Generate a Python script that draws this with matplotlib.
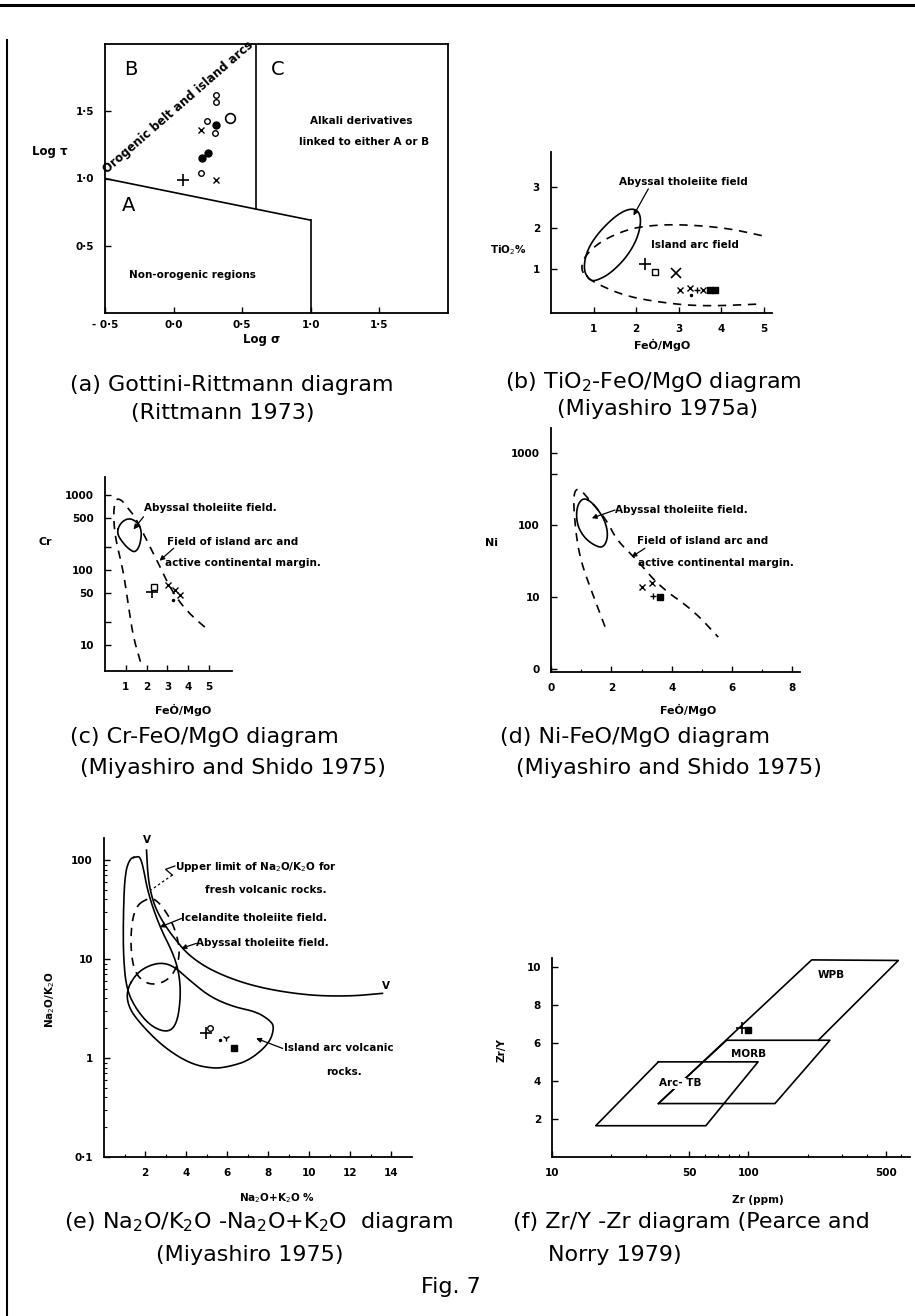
import numpy as np
import matplotlib
matplotlib.use("Agg")
import matplotlib.pyplot as plt
from matplotlib.lines import Line2D

plt.rcParams["font.family"] = ["DejaVu Sans"]
plt.rcParams["mathtext.fontset"] = "dejavusans"

W, H = 915, 1316

# ---------------- (a) Gottini-Rittmann ----------------
A_LOW_X = [-0.5, 1.0]
A_LOW_Y = [1.0, 0.69]
A_BC_X = [0.6, 0.6]
A_BC_Y = [0.775, 2.0]
A_RIGHT_X = [1.0, 1.0]
A_RIGHT_Y = [0.69, 0.0]
A_X = [0.07, 0.20, 0.31, 0.205, 0.25, 0.20, 0.24, 0.31, 0.30, 0.41, 0.31, 0.31]
A_Y = [0.99, 1.04, 0.99, 1.15, 1.19, 1.36, 1.43, 1.40, 1.34, 1.45, 1.62, 1.57]
A_SYM = ["+", "o", "x", "d", "d", "x", "o", "d", "o", "O", "o", "o"]

# ---------------- (b) TiO2 - FeO*/MgO ----------------
B_ELL_X = [0.92, 0.76, 0.84, 1.15, 1.62, 1.98, 2.13, 2.05, 1.78, 1.39, 1.07]
B_ELL_Y = [0.72, 0.97, 1.46, 1.94, 2.39, 2.50, 2.27, 1.78, 1.29, 0.89, 0.72]
B_DASH_X = [4.96, 4.05, 2.88, 2.09, 1.62, 1.15, 0.84, 0.72, 0.74, 1.0, 1.7, 2.49, 3.51, 4.96]
B_DASH_Y = [1.82, 2.02, 2.10, 2.04, 1.90, 1.66, 1.37, 1.13, 0.89, 0.68, 0.36, 0.20, 0.09, 0.15]
B_X = [2.21, 2.45, 2.94, 3.04, 3.27, 3.29, 3.43, 3.58, 3.74, 3.86]
B_Y = [1.13, 0.93, 0.90, 0.50, 0.54, 0.36, 0.48, 0.50, 0.50, 0.50]
B_SYM = ["+", "s", "X", "x", "x", ".", "p", "x", "S", "S"]

# ---------------- (c) Cr - FeO*/MgO ----------------
C_DASH_X = [1.70, 1.35, 1.11, 0.87, 0.48, 0.40, 0.52, 0.80, 1.06, 1.45, 2.0, 2.56, 3.0, 3.62, 4.2, 4.83]
C_DASH_Y = [6.0, 13, 36, 100, 275, 600, 900, 860, 690, 510, 250, 124, 67, 36, 24, 17]
C_ELL_X = [0.56, 0.72, 1.11, 1.50, 1.77, 1.69, 1.45, 1.15, 0.88]
C_ELL_Y = [308, 419, 494, 450, 341, 216, 170, 190, 227]
C_X = [2.26, 2.37, 3.03, 3.38, 3.59, 3.27]
C_Y = [51.5, 60, 63, 54, 46, 40]
C_SYM = ["+", "s", "x", "x", "x", "."]

# ---------------- (d) Ni - FeO*/MgO ----------------
D_DASH_X = [1.79, 1.29, 1.02, 0.85, 0.74, 0.79, 0.96, 1.18, 1.84, 2.17, 2.84, 3.61, 4.71, 5.54]
D_DASH_Y = [3.9, 13.9, 29, 62, 200, 306, 313, 247, 118, 62, 33, 13.9, 6.6, 2.8]
D_ELL_X = [1.07, 1.40, 1.79, 1.90, 1.73, 1.40, 1.07, 0.85, 0.85]
D_ELL_Y = [242, 200, 117, 69, 47.5, 53, 69, 105, 180]
D_X = [3.0, 3.33, 3.39, 3.61]
D_Y = [14, 15.6, 10.3, 9.9]
D_SYM = ["x", "x", "p", "S"]

# ---------------- (e) Na2O/K2O - Na2O+K2O ----------------
E_LIMIT_X = [2.07, 2.15, 2.4, 2.8, 3.36, 4.17, 5.47, 7.41, 9.84, 11.94, 13.56]
E_LIMIT_Y = [126, 63, 37, 24.8, 16.8, 10.6, 7.2, 5.2, 4.3, 4.2, 4.5]
E_TALL_X = [1.59, 1.26, 1.02, 0.94, 0.94, 1.10, 1.59, 2.31, 3.12, 3.56, 3.74, 3.66, 3.36, 2.72, 2.15, 1.91, 1.75]
E_TALL_Y = [108, 104, 73, 29, 10.5, 4.9, 3.05, 2.07, 1.8, 2.24, 4.17, 7.2, 11.5, 21, 45.7, 85, 108]
E_DASH_X = [2.15, 1.59, 1.34, 1.30, 1.50, 2.07, 2.72, 3.28, 3.61, 3.69, 3.36, 2.80, 2.40]
E_DASH_Y = [41, 35, 23, 12.3, 7.2, 5.6, 5.6, 6.6, 9.0, 13.3, 23, 35, 41]
E_ARC_X = [1.10, 1.59, 2.23, 2.88, 3.45, 4.17, 5.15, 6.28, 7.41, 8.06, 8.30, 8.06, 7.09, 6.12, 5.30, 4.17, 2.88, 1.75, 1.18]
E_ARC_Y = [4.9, 7.2, 8.7, 9.2, 8.3, 6.1, 4.17, 3.3, 2.94, 2.42, 2.07, 1.41, 0.95, 0.82, 0.78, 0.88, 1.3, 2.24, 3.3]
E_X = [4.98, 5.15, 5.63, 5.95, 6.31]
E_Y = [1.78, 2.0, 1.51, 1.58, 1.25]
E_SYM = ["+", "o", ".", "y", "S"]

# ---------------- (f) Zr/Y - Zr ----------------
F_WPB_X = [34.8, 210, 580, 227]
F_WPB_Y = [2.82, 10.4, 10.37, 6.16]
F_MORB_X = [77.4, 260, 136.5, 34.8]
F_MORB_Y = [6.16, 6.16, 2.82, 2.82]
F_ARC_X = [34.8, 112, 60.7, 16.7, 34.8]
F_ARC_Y = [5.02, 5.02, 1.65, 1.65, 5.02]
F_X = [92.5, 100]
F_Y = [6.8, 6.68]
F_SYM = ["+", "S"]

SYM = {
    "+": dict(marker="+", ms=8, mew=1.2),
    "p": dict(marker="+", ms=5, mew=1.0),
    "x": dict(marker="x", ms=4.5, mew=1.0),
    "X": dict(marker="x", ms=6.5, mew=1.2),
    "y": dict(marker="1", ms=5, mew=1.0),
    "o": dict(marker="o", ms=4, mfc="white", mew=1.0),
    "O": dict(marker="o", ms=7, mfc="white", mew=1.2),
    "d": dict(marker="o", ms=5, mfc="k"),
    "s": dict(marker="s", ms=4, mfc="white", mew=1.0),
    "S": dict(marker="s", ms=4, mfc="k"),
    ".": dict(marker=".", ms=3),
}

LW = 1.2
DASH = (0, (5, 4))
NOTE = dict(fontsize=7.5, fontweight="bold")
CAP = 16

fig = plt.figure(figsize=(W / 100, H / 100), dpi=100)


def add_ax(left, top, right, bottom, box=False):
    ax = fig.add_axes([left / W, 1 - bottom / H, (right - left) / W, (bottom - top) / H])
    for s in ["top", "right"]:
        ax.spines[s].set_visible(box)
    for s in ax.spines.values():
        s.set_linewidth(1.3)
    ax.tick_params(direction="in", length=4, width=1.0, pad=8, labelsize=7.5)
    ax.tick_params(which="minor", direction="in", length=2.5, width=0.8)
    return ax


def ftext(x, y, s, **kw):
    kw.setdefault("ha", "center")
    kw.setdefault("va", "center")
    fig.text(x / W, 1 - y / H, s, **kw)


def smooth(xs, ys, closed=False, logx=False, logy=False, n=3):
    px = np.log10(xs) if logx else np.asarray(xs, float)
    py = np.log10(ys) if logy else np.asarray(ys, float)
    pts = np.column_stack([px, py])
    if closed and np.allclose(pts[0], pts[-1]):
        pts = pts[:-1]
    for _ in range(n):
        if closed:
            p, q = pts, np.roll(pts, -1, axis=0)
        else:
            p, q = pts[:-1], pts[1:]
        new = np.empty((2 * len(p), 2))
        new[0::2] = 0.75 * p + 0.25 * q
        new[1::2] = 0.25 * p + 0.75 * q
        if not closed:
            new = np.vstack([pts[0], new, pts[-1]])
        pts = new
    if closed:
        pts = np.vstack([pts, pts[:1]])
    sx = 10 ** pts[:, 0] if logx else pts[:, 0]
    sy = 10 ** pts[:, 1] if logy else pts[:, 1]
    return sx, sy


def samples(ax, xs, ys, syms):
    for x, y, s in zip(xs, ys, syms):
        ax.plot([x], [y], linestyle="none", color="k", mec="k", clip_on=False, **SYM[s])


def arrow(ax, start, end):
    ax.annotate("", xy=end, xytext=start,
                arrowprops=dict(arrowstyle="-|>", lw=0.9, color="k", mutation_scale=7,
                                shrinkA=0, shrinkB=0))


def bold_ticks(ax):
    for lab in ax.get_xticklabels() + ax.get_yticklabels():
        lab.set_fontweight("bold")


# ---- (a)
ax = add_ax(105, 44, 448, 313, box=True)
ax.plot(A_LOW_X, A_LOW_Y, color="k", lw=LW)
ax.plot(A_BC_X, A_BC_Y, color="k", lw=LW)
ax.plot(A_RIGHT_X, A_RIGHT_Y, color="k", lw=LW)
samples(ax, A_X, A_Y, A_SYM)
ax.set_xlim(-0.5, 2.0)
ax.set_ylim(0, 2.0)
ax.set_xticks([-0.5, 0.0, 0.5, 1.0, 1.5])
ax.set_xticklabels(["- 0·5", "0·0", "0·5", "1·0", "1·5"])
ax.set_yticks([0.5, 1.0, 1.5])
ax.set_yticklabels(["0·5", "1·0", "1·5"])
ax.tick_params(axis="x", pad=5)
bold_ticks(ax)
ax.text(-0.31, 1.81, "B", fontsize=14, ha="center", va="center")
ax.text(0.76, 1.81, "C", fontsize=14, ha="center", va="center")
ax.text(-0.33, 0.80, "A", fontsize=14, ha="center", va="center")
ax.text(1.37, 1.43, "Alkali derivatives", ha="center", va="center", **NOTE)
ax.text(1.39, 1.27, "linked to either A or B", ha="center", va="center", **NOTE)
ax.text(0.14, 0.28, "Non-orogenic regions", ha="center", va="center", **NOTE)
ax.text(-0.47, 1.02, "Orogenic belt and island arcs", rotation=41, rotation_mode="anchor",
        ha="left", va="bottom", fontsize=8.5, fontweight="bold")
ftext(50, 152, "Log τ", fontsize=8.5, fontweight="bold")
ftext(262, 340, "Log σ", fontsize=8.5, fontweight="bold")
ftext(70, 385, "(a) Gottini-Rittmann diagram", fontsize=CAP, ha="left")
ftext(223, 413, "(Rittmann 1973)", fontsize=CAP)

# ---- (b)
ax = add_ax(551, 152, 772, 313)
x, y = smooth(B_ELL_X, B_ELL_Y, closed=True)
ax.plot(x, y, color="k", lw=LW)
x, y = smooth(B_DASH_X, B_DASH_Y)
ax.plot(x, y, color="k", lw=LW, linestyle=DASH)
samples(ax, B_X, B_Y, B_SYM)
ax.set_xlim(0, 5.2)
ax.set_ylim(-0.07, 3.86)
ax.set_xticks([1, 2, 3, 4, 5])
ax.set_yticks([1, 2, 3])
bold_ticks(ax)
ax.text(3.11, 3.12, "Abyssal tholeiite field", ha="center", va="center", **NOTE)
arrow(ax, (2.29, 2.96), (1.94, 2.31))
ax.text(3.39, 1.58, "Island arc field", ha="center", va="center", **NOTE)
ftext(508, 250, "TiO$_2$%", fontsize=7.5, fontweight="bold")
ftext(662, 345, "FeȮ/MgO", fontsize=8, fontweight="bold")
ftext(505, 382, "(b) TiO$_2$-FeO/MgO diagram", fontsize=CAP, ha="left")
ftext(658, 409, "(Miyashiro 1975a)", fontsize=CAP)

# ---- (c)
ax = add_ax(105, 477, 232, 671)
ax.set_yscale("log")
x, y = smooth(C_DASH_X, C_DASH_Y, logy=True)
ax.plot(x, y, color="k", lw=LW, linestyle=DASH)
x, y = smooth(C_ELL_X, C_ELL_Y, closed=True, logy=True)
ax.plot(x, y, color="k", lw=LW)
samples(ax, C_X, C_Y, C_SYM)
ax.set_xlim(0, 6.1)
ax.set_ylim(4.5, 1740)
ax.set_xticks([1, 2, 3, 4, 5])
ax.set_yticks([10, 20, 50, 100, 200, 500, 1000])
ax.set_yticklabels(["10", "", "50", "100", "", "500", "1000"])
ax.yaxis.set_minor_locator(matplotlib.ticker.NullLocator())
bold_ticks(ax)
ax.text(1.85, 665, "Abyssal tholeiite field.", ha="left", va="center", clip_on=False, **NOTE)
arrow(ax, (1.85, 513), (1.37, 348))
ax.text(2.98, 238, "Field of island arc and", ha="left", va="center", clip_on=False, **NOTE)
ax.text(2.9, 123, "active continental margin.", ha="left", va="center", clip_on=False, **NOTE)
arrow(ax, (3.3, 195), (2.62, 133))
ftext(45, 542, "Cr", fontsize=8, fontweight="bold")
ftext(183, 710, "FeȮ/MgO", fontsize=8, fontweight="bold")
ftext(70, 737, "(c) Cr-FeO/MgO diagram", fontsize=CAP, ha="left")
ftext(80, 768, "(Miyashiro and Shido 1975)", fontsize=CAP, ha="left")

# ---- (d)
ax = add_ax(551, 428, 800, 672)
ax.set_yscale("log")
x, y = smooth(D_DASH_X, D_DASH_Y, logy=True)
ax.plot(x, y, color="k", lw=LW, linestyle=DASH)
x, y = smooth(D_ELL_X, D_ELL_Y, closed=True, logy=True)
ax.plot(x, y, color="k", lw=LW)
samples(ax, D_X, D_Y, D_SYM)
ax.set_xlim(0, 8.25)
ax.set_ylim(0.92, 2200)
ax.set_xticks([0, 2, 4, 6, 8])
ax.set_xticks([1, 3, 5, 7], minor=True)
ax.set_yticks([1, 10, 100, 500, 1000])
ax.set_yticklabels(["0", "10", "100", "", "1000"])
ax.yaxis.set_minor_locator(matplotlib.ticker.NullLocator())
bold_ticks(ax)
ax.text(2.12, 161, "Abyssal tholeiite field.", ha="left", va="center", clip_on=False, **NOTE)
arrow(ax, (2.12, 161), (1.35, 124))
ax.text(2.84, 59, "Field of island arc and", ha="left", va="center", clip_on=False, **NOTE)
ax.text(2.89, 29.5, "active continental margin.", ha="left", va="center", clip_on=False, **NOTE)
arrow(ax, (3.11, 47.5), (2.67, 36))
ftext(492, 543, "Ni", fontsize=8, fontweight="bold")
ftext(688, 710, "FeȮ/MgO", fontsize=8, fontweight="bold")
ftext(500, 737, "(d) Ni-FeO/MgO diagram", fontsize=CAP, ha="left")
ftext(516, 768, "(Miyashiro and Shido 1975)", fontsize=CAP, ha="left")

# ---- (e)
ax = add_ax(104, 838, 412, 1157)
ax.set_yscale("log")
x, y = smooth(E_LIMIT_X, E_LIMIT_Y, logy=True)
ax.plot(x, y, color="k", lw=LW, clip_on=False)
x, y = smooth(E_TALL_X, E_TALL_Y, closed=True, logy=True)
ax.plot(x, y, color="k", lw=LW)
x, y = smooth(E_DASH_X, E_DASH_Y, closed=True, logy=True)
ax.plot(x, y, color="k", lw=LW, linestyle=DASH)
x, y = smooth(E_ARC_X, E_ARC_Y, closed=True, logy=True)
ax.plot(x, y, color="k", lw=LW)
samples(ax, E_X, E_Y, E_SYM)
ax.set_xlim(0, 15)
ax.set_ylim(0.1, 167)
ax.set_xticks([2, 4, 6, 8, 10, 12, 14])
ax.set_xticks([1, 3, 5, 7, 9, 11, 13], minor=True)
ax.set_yticks([0.1, 1, 10, 100])
ax.set_yticklabels(["0·1", "1", "10", "100"])
bold_ticks(ax)
ax.text(2.07, 160, "V", ha="center", va="center", clip_on=False, **NOTE)
ax.text(13.75, 5.4, "V", ha="center", va="center", clip_on=False, **NOTE)
ax.text(3.45, 85, "Upper limit of Na$_2$O/K$_2$O for", ha="left", va="center", **NOTE)
ax.text(4.9, 50, "fresh volcanic rocks.", ha="left", va="center", **NOTE)
ax.plot([3.45, 3.0, 3.33], [87, 80.6, 70.5], color="k", lw=0.9)
ax.plot([3.33, 2.3], [70.5, 50], color="k", lw=0.9, linestyle=(0, (2, 2)))
ax.text(3.77, 25.7, "Icelandite tholeiite field.", ha="left", va="center", **NOTE)
arrow(ax, (3.77, 25.7), (2.72, 21))
ax.text(4.5, 14.4, "Abyssal tholeiite field.", ha="left", va="center", **NOTE)
arrow(ax, (4.5, 14.4), (3.77, 12.8))
ax.text(8.79, 1.25, "Island arc volcanic", ha="left", va="center", **NOTE)
arrow(ax, (8.7, 1.25), (7.41, 1.58))
ax.text(11.7, 0.73, "rocks.", ha="center", va="center", **NOTE)
ftext(50, 1000, "Na$_2$O/K$_2$O", fontsize=7.5, fontweight="bold", rotation=90)
ftext(277, 1198, "Na$_2$O+K$_2$O %", fontsize=7.5, fontweight="bold")
ftext(64, 1222, "(e) Na$_2$O/K$_2$O -Na$_2$O+K$_2$O  diagram", fontsize=CAP, ha="left")
ftext(250, 1255, "(Miyashiro 1975)", fontsize=CAP)

# ---- (f)
ax = add_ax(552, 958, 910, 1157)
ax.set_xscale("log")
ax.plot(F_WPB_X, F_WPB_Y, color="k", lw=LW, clip_on=False)
ax.plot(F_MORB_X + F_MORB_X[:1], F_MORB_Y + F_MORB_Y[:1], color="k", lw=LW)
ax.plot(F_ARC_X, F_ARC_Y, color="k", lw=LW)
samples(ax, F_X, F_Y, F_SYM)
ax.set_xlim(10, 665)
ax.set_ylim(0, 10.5)
ax.set_xticks([10, 50, 100, 500])
ax.set_xticklabels(["10", "50", "100", "500"])
ax.set_yticks([2, 4, 6, 8, 10])
bold_ticks(ax)
ax.text(265, 9.58, "WPB", ha="center", va="center", **NOTE)
ax.text(100, 5.46, "MORB", ha="center", va="center", bbox=dict(fc="white", ec="none", pad=0.5), **NOTE)
ax.text(44.9, 3.88, "Arc- TB", ha="center", va="center", bbox=dict(fc="white", ec="none", pad=0.5), **NOTE)
ftext(502, 1050, "Zr/Y", fontsize=7.5, fontweight="bold", rotation=90)
ftext(758, 1200, "Zr (ppm)", fontsize=7.5, fontweight="bold")
ftext(513, 1222, "(f) Zr/Y -Zr diagram (Pearce and", fontsize=CAP, ha="left")
ftext(548, 1255, "Norry 1979)", fontsize=CAP, ha="left")

ftext(451, 1287, "Fig. 7", fontsize=CAP)

# page rules of the scanned sheet
fig.add_artist(Line2D([0, 1], [1 - 5 / H, 1 - 5 / H], transform=fig.transFigure, color="k", lw=2.2))
fig.add_artist(Line2D([7 / W, 7 / W], [0, 1 - 40 / H], transform=fig.transFigure, color="k", lw=1.5))

fig.savefig("out.png", dpi=100)
